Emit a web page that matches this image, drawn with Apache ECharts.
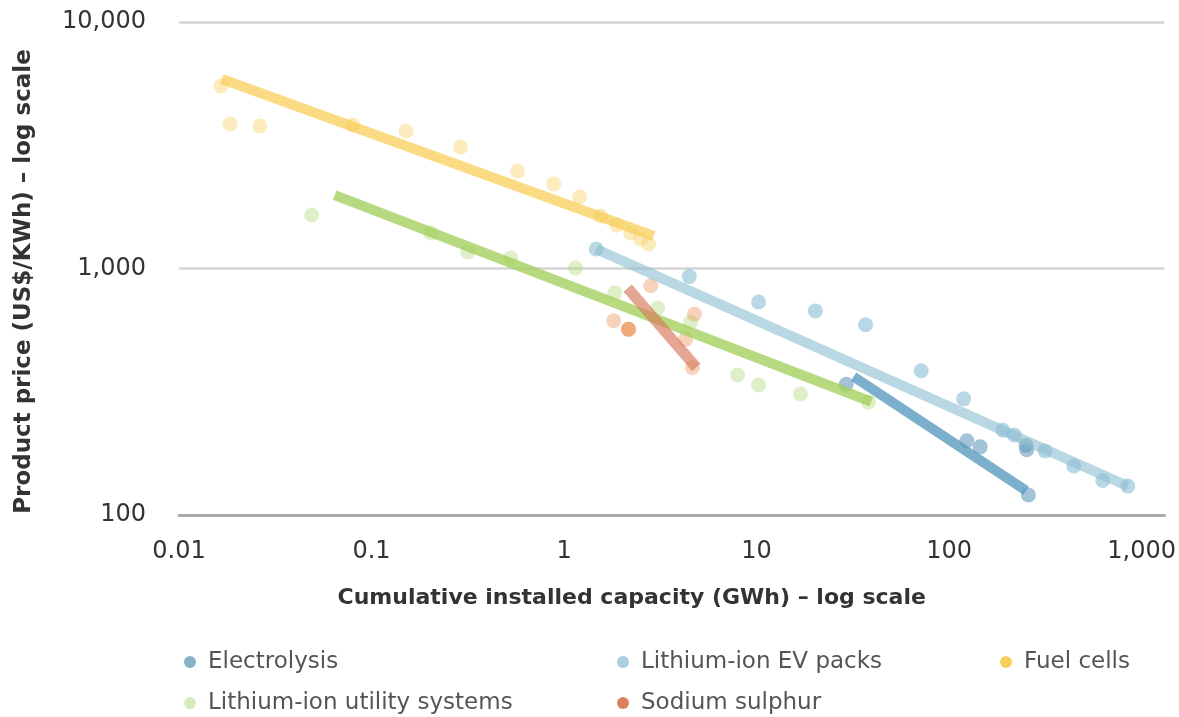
<!DOCTYPE html>
<html>
<head>
<meta charset="utf-8">
<script src="https://cdn.jsdelivr.net/npm/echarts@6/dist/echarts.min.js"></script>
<style>
html,body{margin:0;padding:0;background:#fff;}
#chart{width:1179px;height:717px;}
</style>
</head>
<body>
<div id="chart"></div>
<script>
// ---- Data ----
var seriesNames = ['Electrolysis', 'Lithium-ion EV packs', 'Fuel cells', 'Lithium-ion utility systems', 'Sodium sulphur'];
var xTickLabels = ['0.01', '0.1', '1', '10', '100', '1,000'];
var yTickLabels = ['100', '1,000', '10,000'];

var electrolysisX = [29.2, 123.6, 145, 251, 253, 258];
var electrolysisY = [339, 200, 189, 192, 184, 120.5];
var electrolysisTrendX = [31.9, 251];
var electrolysisTrendY = [364, 125.5];

var evX = [1.47, 4.47, 10.24, 20.2, 36.8, 71.6, 119, 190, 218, 315, 444, 628, 847];
var evY = [1199, 927, 731, 673, 591, 385, 296, 221, 211, 182, 158, 138, 131];
var evTrendX = [1.47, 847];
var evTrendY = [1199, 131];

var fuelX = [0.0165, 0.0184, 0.0263, 0.080, 0.151, 0.29, 0.574, 0.883, 1.205, 1.549, 1.876, 2.217, 2.50, 2.75];
var fuelY = [5500, 3855, 3785, 3820, 3613, 3112, 2486, 2204, 1950, 1633, 1500, 1394, 1318, 1257];
var fuelTrendX = [0.0167, 2.92];
var fuelTrendY = [5875, 1355];

var utilityX = [0.0489, 0.203, 0.316, 0.528, 1.148, 1.832, 3.06, 4.54, 7.97, 10.24, 16.9, 38.1];
var utilityY = [1648, 1394, 1166, 1104, 1005, 796, 692, 607, 370, 337, 310, 287];
var utilityTrendX = [0.0644, 39.4];
var utilityTrendY = [1986, 288];

var sodiumX = [1.81, 2.16, 2.16, 2.16, 2.82, 4.76, 4.28, 4.64];
var sodiumY = [614, 567, 567, 567, 851, 653, 516, 397];
var sodiumTrendX = [2.14, 4.86];
var sodiumTrendY = [832, 397];

// ---- Styles ----
var dotColors = ['rgba(100,155,190,0.75)', 'rgba(120,180,205,0.65)', 'rgba(248,205,90,0.5)', 'rgba(175,215,120,0.5)', 'rgba(235,145,85,0.5)'];
var lineColors = ['rgba(90,155,190,0.8)', 'rgba(140,190,208,0.6)', 'rgba(248,205,90,0.75)', 'rgba(165,208,95,0.8)', 'rgba(215,120,90,0.65)'];
var legendColors = ['#88b1cb', '#a7cfdd', '#f7cf5d', '#d6ebbd', '#d9825b'];
var legendPos = [[184, 650], [617, 650], [1000, 650], [184, 691], [617, 691]];

function zip(xs, ys) { return xs.map(function (x, i) { return [x, ys[i]]; }); }

var pts = [zip(electrolysisX, electrolysisY), zip(evX, evY), zip(fuelX, fuelY), zip(utilityX, utilityY), zip(sodiumX, sodiumY)];
var trends = [zip(electrolysisTrendX, electrolysisTrendY), zip(evTrendX, evTrendY), zip(fuelTrendX, fuelTrendY), zip(utilityTrendX, utilityTrendY), zip(sodiumTrendX, sodiumTrendY)];

var series = [];
seriesNames.forEach(function (n, i) {
  series.push({
    name: n, type: 'scatter', data: pts[i], symbolSize: 15,
    itemStyle: { color: dotColors[i] }, z: 2
  });
});
seriesNames.forEach(function (n, i) {
  series.push({
    name: n + ' trend', type: 'line', data: trends[i], symbol: 'none',
    lineStyle: { color: lineColors[i], width: i === 4 ? 11 : 10, cap: 'butt' }, z: 3
  });
});

var FONT = 'DejaVu Sans';
var legends = seriesNames.map(function (n, i) {
  return {
    orient: 'horizontal', icon: 'circle', itemWidth: 12, itemHeight: 12, padding: 0,
    left: legendPos[i][0], top: legendPos[i][1], selectedMode: false,
    textStyle: { fontFamily: FONT, fontSize: 23, color: '#555555', lineHeight: 24, padding: [0, 0, 0, 7] },
    data: [{ name: n, itemStyle: { color: legendColors[i], opacity: 1 } }]
  };
});

var chart = echarts.init(document.getElementById('chart'), null, { renderer: 'canvas' });
chart.setOption({
  animation: false,
  backgroundColor: '#ffffff',
  grid: { left: 179, right: 14, top: 22, bottom: 202, containLabel: false },
  legend: legends,
  xAxis: {
    type: 'log', logBase: 10, min: 0.01, max: 1313,
    name: 'Cumulative installed capacity (GWh) – log scale',
    nameLocation: 'middle', nameGap: 72,
    nameTextStyle: { fontFamily: FONT, fontSize: 22, fontWeight: 'bold', color: '#333', padding: [0, 80, 0, 0] },
    axisLine: { show: true, lineStyle: { color: '#aaaaaa', width: 3 } },
    axisTick: { show: false },
    splitLine: { show: false },
    axisLabel: {
      fontFamily: FONT, fontSize: 24, color: '#333', margin: 25,
      formatter: function (v) {
        var e = Math.log10(v), r = Math.round(e);
        if (Math.abs(e - r) > 1e-6) return '';
        return xTickLabels[r + 2] || '';
      }
    }
  },
  yAxis: {
    type: 'log', logBase: 10, min: 100, max: 10000,
    name: 'Product price (US$/KWh) – log scale',
    nameLocation: 'middle', nameGap: 143, nameRotate: 90,
    nameTextStyle: { fontFamily: FONT, fontSize: 23, fontWeight: 'bold', color: '#333', padding: [0, 26, 0, 0] },
    axisLine: { show: false },
    axisTick: { show: false },
    splitLine: { show: true, lineStyle: { color: '#d5d5d5', width: 2.5 } },
    axisLabel: {
      fontFamily: FONT, fontSize: 24, color: '#333', margin: 33,
      formatter: function (v) {
        var e = Math.log10(v), r = Math.round(e);
        if (Math.abs(e - r) > 1e-6) return '';
        return yTickLabels[r - 2] || '';
      }
    }
  },
  series: series
});
</script>
</body>
</html>
